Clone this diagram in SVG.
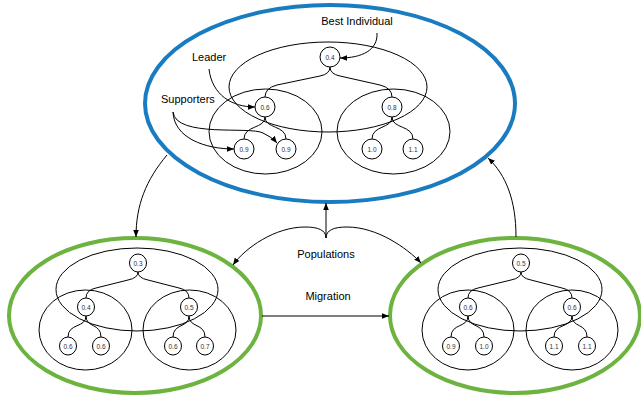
<svg xmlns="http://www.w3.org/2000/svg" width="641" height="399" viewBox="0 0 641 399">
<style>
.pop-blue{fill:none;stroke:#1a7cc0;stroke-width:4}
.pop-green{fill:none;stroke:#6db33f;stroke-width:4}
.grp{fill:none;stroke:#000;stroke-width:1}
.node{fill:#fff;stroke:#000;stroke-width:1}
.edge{fill:none;stroke:#000;stroke-width:1}
.conn{fill:none;stroke:#000;stroke-width:1;marker-end:url(#arr)}
.nt{font-family:"Liberation Sans",Arial,sans-serif;font-size:6.5px;fill:#333;text-anchor:middle;dominant-baseline:central}
.lbl{font-family:"Liberation Sans",Arial,sans-serif;font-size:11px;fill:#000}
</style>
<defs>
<marker id="arr" viewBox="0 0 10 10" refX="10" refY="5" markerWidth="7" markerHeight="7" markerUnits="userSpaceOnUse" orient="auto">
<path d="M0,1 L10,5 L0,9 z" fill="#000"/>
</marker>
</defs>

<rect width="641" height="399" fill="#fff"/>

<!-- Top population -->
<g id="pop-top">
<ellipse class="pop-blue" cx="330" cy="103.5" rx="185" ry="98.5"/>
<ellipse class="grp" cx="328" cy="87" rx="99" ry="45"/>
<ellipse class="grp" cx="265.5" cy="131.5" rx="56.5" ry="42.5"/>
<ellipse class="grp" cx="393.5" cy="131.5" rx="56.5" ry="42.5"/>
<path class="edge" d="M330,67 Q330,74 320,76 L277,85 Q265,88 265,97"/>
<path class="edge" d="M330,67 Q330,74 340,76 L380,85 Q392,88 392,97"/>
<path class="edge" d="M265,117 C265,129 244,125 244,139"/>
<path class="edge" d="M265,117 C265,129 286,125 286,139"/>
<path class="edge" d="M392,117 C392,129 372,125 372,139"/>
<path class="edge" d="M392,117 C392,129 413,125 413,139"/>
<g id="t-n04"><circle class="node" cx="330" cy="57" r="10"/><text class="nt" x="330" y="57">0.4</text></g>
<g id="t-n06"><circle class="node" cx="265" cy="107" r="10"/><text class="nt" x="265" y="107">0.6</text></g>
<g id="t-n08"><circle class="node" cx="392" cy="107" r="10"/><text class="nt" x="392" y="107">0.8</text></g>
<g id="t-n09a"><circle class="node" cx="244" cy="149" r="10"/><text class="nt" x="244" y="149">0.9</text></g>
<g id="t-n09b"><circle class="node" cx="286" cy="149" r="10"/><text class="nt" x="286" y="149">0.9</text></g>
<g id="t-n10"><circle class="node" cx="372" cy="149" r="10"/><text class="nt" x="372" y="149">1.0</text></g>
<g id="t-n11"><circle class="node" cx="413" cy="149" r="10"/><text class="nt" x="413" y="149">1.1</text></g>
</g>

<!-- Bottom-left population -->
<g id="pop-left">
<ellipse class="pop-green" cx="135" cy="315.5" rx="126" ry="77.5"/>
<ellipse class="grp" cx="137" cy="289.5" rx="81" ry="41.5"/>
<ellipse class="grp" cx="85.5" cy="330" rx="46.5" ry="40"/>
<ellipse class="grp" cx="189.5" cy="330" rx="46.5" ry="40"/>
<path class="edge" d="M138,272 Q138,278 128,280 L96,288 Q86,290 86,298"/>
<path class="edge" d="M138,272 Q138,278 148,280 L179,288 Q189,290 189,298"/>
<path class="edge" d="M86,316 C86,328 68,323 68,337"/>
<path class="edge" d="M86,316 C86,328 101,323 101,337"/>
<path class="edge" d="M189,316 C189,328 173,323 173,337"/>
<path class="edge" d="M189,316 C189,328 205,323 205,337"/>
<g id="l-n03"><ellipse class="node" cx="138" cy="263" rx="8.5" ry="9"/><text class="nt" x="138" y="263">0.3</text></g>
<g id="l-n04"><ellipse class="node" cx="86" cy="307" rx="8.5" ry="9"/><text class="nt" x="86" y="307">0.4</text></g>
<g id="l-n05"><ellipse class="node" cx="189" cy="307" rx="8.5" ry="9"/><text class="nt" x="189" y="307">0.5</text></g>
<g id="l-n06a"><ellipse class="node" cx="68" cy="346" rx="8.5" ry="9"/><text class="nt" x="68" y="346">0.6</text></g>
<g id="l-n06b"><ellipse class="node" cx="101" cy="346" rx="8.5" ry="9"/><text class="nt" x="101" y="346">0.6</text></g>
<g id="l-n06c"><ellipse class="node" cx="173" cy="346" rx="8.5" ry="9"/><text class="nt" x="173" y="346">0.6</text></g>
<g id="l-n07"><ellipse class="node" cx="205" cy="346" rx="8.5" ry="9"/><text class="nt" x="205" y="346">0.7</text></g>
</g>

<!-- Bottom-right population -->
<g id="pop-right">
<ellipse class="pop-green" cx="515" cy="315.5" rx="125" ry="77.5"/>
<ellipse class="grp" cx="520" cy="289.5" rx="82" ry="41.5"/>
<ellipse class="grp" cx="468" cy="330" rx="46" ry="40"/>
<ellipse class="grp" cx="572" cy="330" rx="46" ry="40"/>
<path class="edge" d="M521,272 Q521,278 511,280 L478,288 Q468,290 468,298"/>
<path class="edge" d="M521,272 Q521,278 531,280 L562,288 Q572,290 572,298"/>
<path class="edge" d="M468,316 C468,328 451,323 451,337"/>
<path class="edge" d="M468,316 C468,328 484,323 484,337"/>
<path class="edge" d="M572,316 C572,328 554,323 554,337"/>
<path class="edge" d="M572,316 C572,328 587,323 587,337"/>
<g id="r-n05"><ellipse class="node" cx="521" cy="263" rx="8.5" ry="9"/><text class="nt" x="521" y="263">0.5</text></g>
<g id="r-n06a"><ellipse class="node" cx="468" cy="307" rx="8.5" ry="9"/><text class="nt" x="468" y="307">0.6</text></g>
<g id="r-n06b"><ellipse class="node" cx="572" cy="307" rx="8.5" ry="9"/><text class="nt" x="572" y="307">0.6</text></g>
<g id="r-n09"><ellipse class="node" cx="451" cy="346" rx="8.5" ry="9"/><text class="nt" x="451" y="346">0.9</text></g>
<g id="r-n10"><ellipse class="node" cx="484" cy="346" rx="8.5" ry="9"/><text class="nt" x="484" y="346">1.0</text></g>
<g id="r-n11a"><ellipse class="node" cx="554" cy="346" rx="8.5" ry="9"/><text class="nt" x="554" y="346">1.1</text></g>
<g id="r-n11b"><ellipse class="node" cx="587" cy="346" rx="8.5" ry="9"/><text class="nt" x="587" y="346">1.1</text></g>
</g>

<!-- Labels -->
<g id="labels">
<text class="lbl" x="357" y="25" text-anchor="middle">Best Individual</text>
<text class="lbl" x="192" y="61">Leader</text>
<text class="lbl" x="161" y="103">Supporters</text>
<text class="lbl" x="326" y="258" text-anchor="middle">Populations</text>
<text class="lbl" x="328" y="300" text-anchor="middle">Migration</text>
</g>

<!-- Connectors -->
<g id="connectors">
<path class="conn" d="M377,33 C378,50 362,58 340,58"/>
<path class="conn" d="M209,69 C212,95 232,107 255,107"/>
<path class="conn" d="M173,112 C174,138 205,149 234,149"/>
<path class="conn" d="M173,112 C176,138 250,126 263,133 Q272,137 277,143"/>
<path class="conn" d="M167,155 C146,180 136,205 136,237"/>
<path class="conn" d="M516,237 C516,200 506,175 488,158"/>
<path class="conn" d="M326,238 L326,203"/>
<path class="conn" d="M326,238 C326,230 318,227 305,227 C275,227 245,248 233,265"/>
<path class="conn" d="M326,238 C326,230 334,227 347,227 C377,227 407,248 421,263"/>
<path class="conn" d="M262,316 L389,316"/>
</g>
</svg>
